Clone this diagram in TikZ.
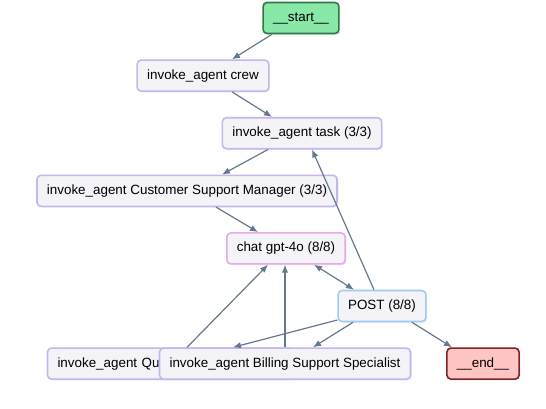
\documentclass[tikz,border=0pt]{standalone}
\usepackage{fontspec}
\setmainfont{Liberation Sans}
\usepackage{tikz}
\usetikzlibrary{positioning}
\usetikzlibrary{arrows.meta,shadows}
\usepackage{xcolor}
\definecolor{BoxFill}{HTML}{F3F3F8}
\definecolor{BoxLine}{HTML}{C6B6F0}
\definecolor{ChatLine}{HTML}{E8A8EA}
\definecolor{PostLine}{HTML}{A0CCF4}
\definecolor{StartFill}{HTML}{88E8A8}
\definecolor{StartLine}{HTML}{2C7A4A}
\definecolor{EndFill}{HTML}{FFC5C5}
\definecolor{EndLine}{HTML}{7B2424}
\definecolor{EdgeColor}{HTML}{66788F}

\begin{document}
\begin{tikzpicture}[x=1pt,y=-1pt,node distance=25pt,
		box/.style={draw=BoxLine,fill=BoxFill,line width=1.6pt,rounded corners=4pt,minimum height=31pt,inner xsep=10pt,font=\fontsize{13.4}{15}\selectfont,drop shadow={shadow xshift=1.5pt,shadow yshift=-1.5pt,fill=black!12}},
		edge/.style={draw=EdgeColor,line width=1.2pt,-{Latex[length=8pt,width=6.5pt]}}]
				\useasboundingbox (0,0) rectangle (546,408);
				\node[box,draw=StartLine,fill=StartFill](start) at (301,18) {\_\_start\_\_};
				\node[box,below=of start,xshift=-98pt](crew) {invoke\_agent crew};
				\node[box,below=of crew,xshift=99pt](task) {invoke\_agent task (3/3)};
				\node[box,below=of task,xshift=-115pt](manager) {invoke\_agent Customer Support Manager (3/3)};
				\node[box,draw=ChatLine,below=of manager,xshift=99pt](chat) {chat gpt-4o (8/8)};
				\node[box,draw=PostLine,below=of chat,xshift=96pt](post) {POST (8/8)};
				\node[box,below=of post,xshift=-212pt,text width=225pt,align=left](quality) {invoke\_agent Quality Assurance};
				\node[box,below=of post,xshift=-97pt](billing) {invoke\_agent Billing Support Specialist};
				\node[box,draw=EndLine,fill=EndFill,below=of post,xshift=101pt](end) {\_\_end\_\_};

				\draw[edge] ([xshift=-29pt]start.south) to ([xshift=29pt]crew.north);
				\draw[edge] ([xshift=29pt]crew.south) to ([xshift=-30pt]task.north);
				\draw[edge] ([xshift=-34pt]task.south) to ([xshift=35pt]manager.north);
				\draw[edge] ([xshift=-8pt]post.north) to ([xshift=10pt]task.south);
				\draw[edge] ([xshift=29pt]manager.south) to ([xshift=-28pt]chat.north);
				\draw[edge,{Latex[length=8pt,width=6.5pt]}-{Latex[length=8pt,width=6.5pt]}] ([xshift=28pt]chat.south) to ([xshift=-28pt]post.north);
				\draw[edge] ([xshift=17pt]quality.north) to ([xshift=-18pt]chat.south);
				\draw[edge] (billing.north) to (billing.north |- chat.south);
				\draw[edge] ([yshift=-14pt]post.west) to ([xshift=63pt]quality.north);
				\draw[edge] ([xshift=-29pt]post.south) to ([xshift=28pt]billing.north);
				\draw[edge] ([xshift=30pt]post.south) to ([xshift=-31pt]end.north);

			\end{tikzpicture}
\end{document}
